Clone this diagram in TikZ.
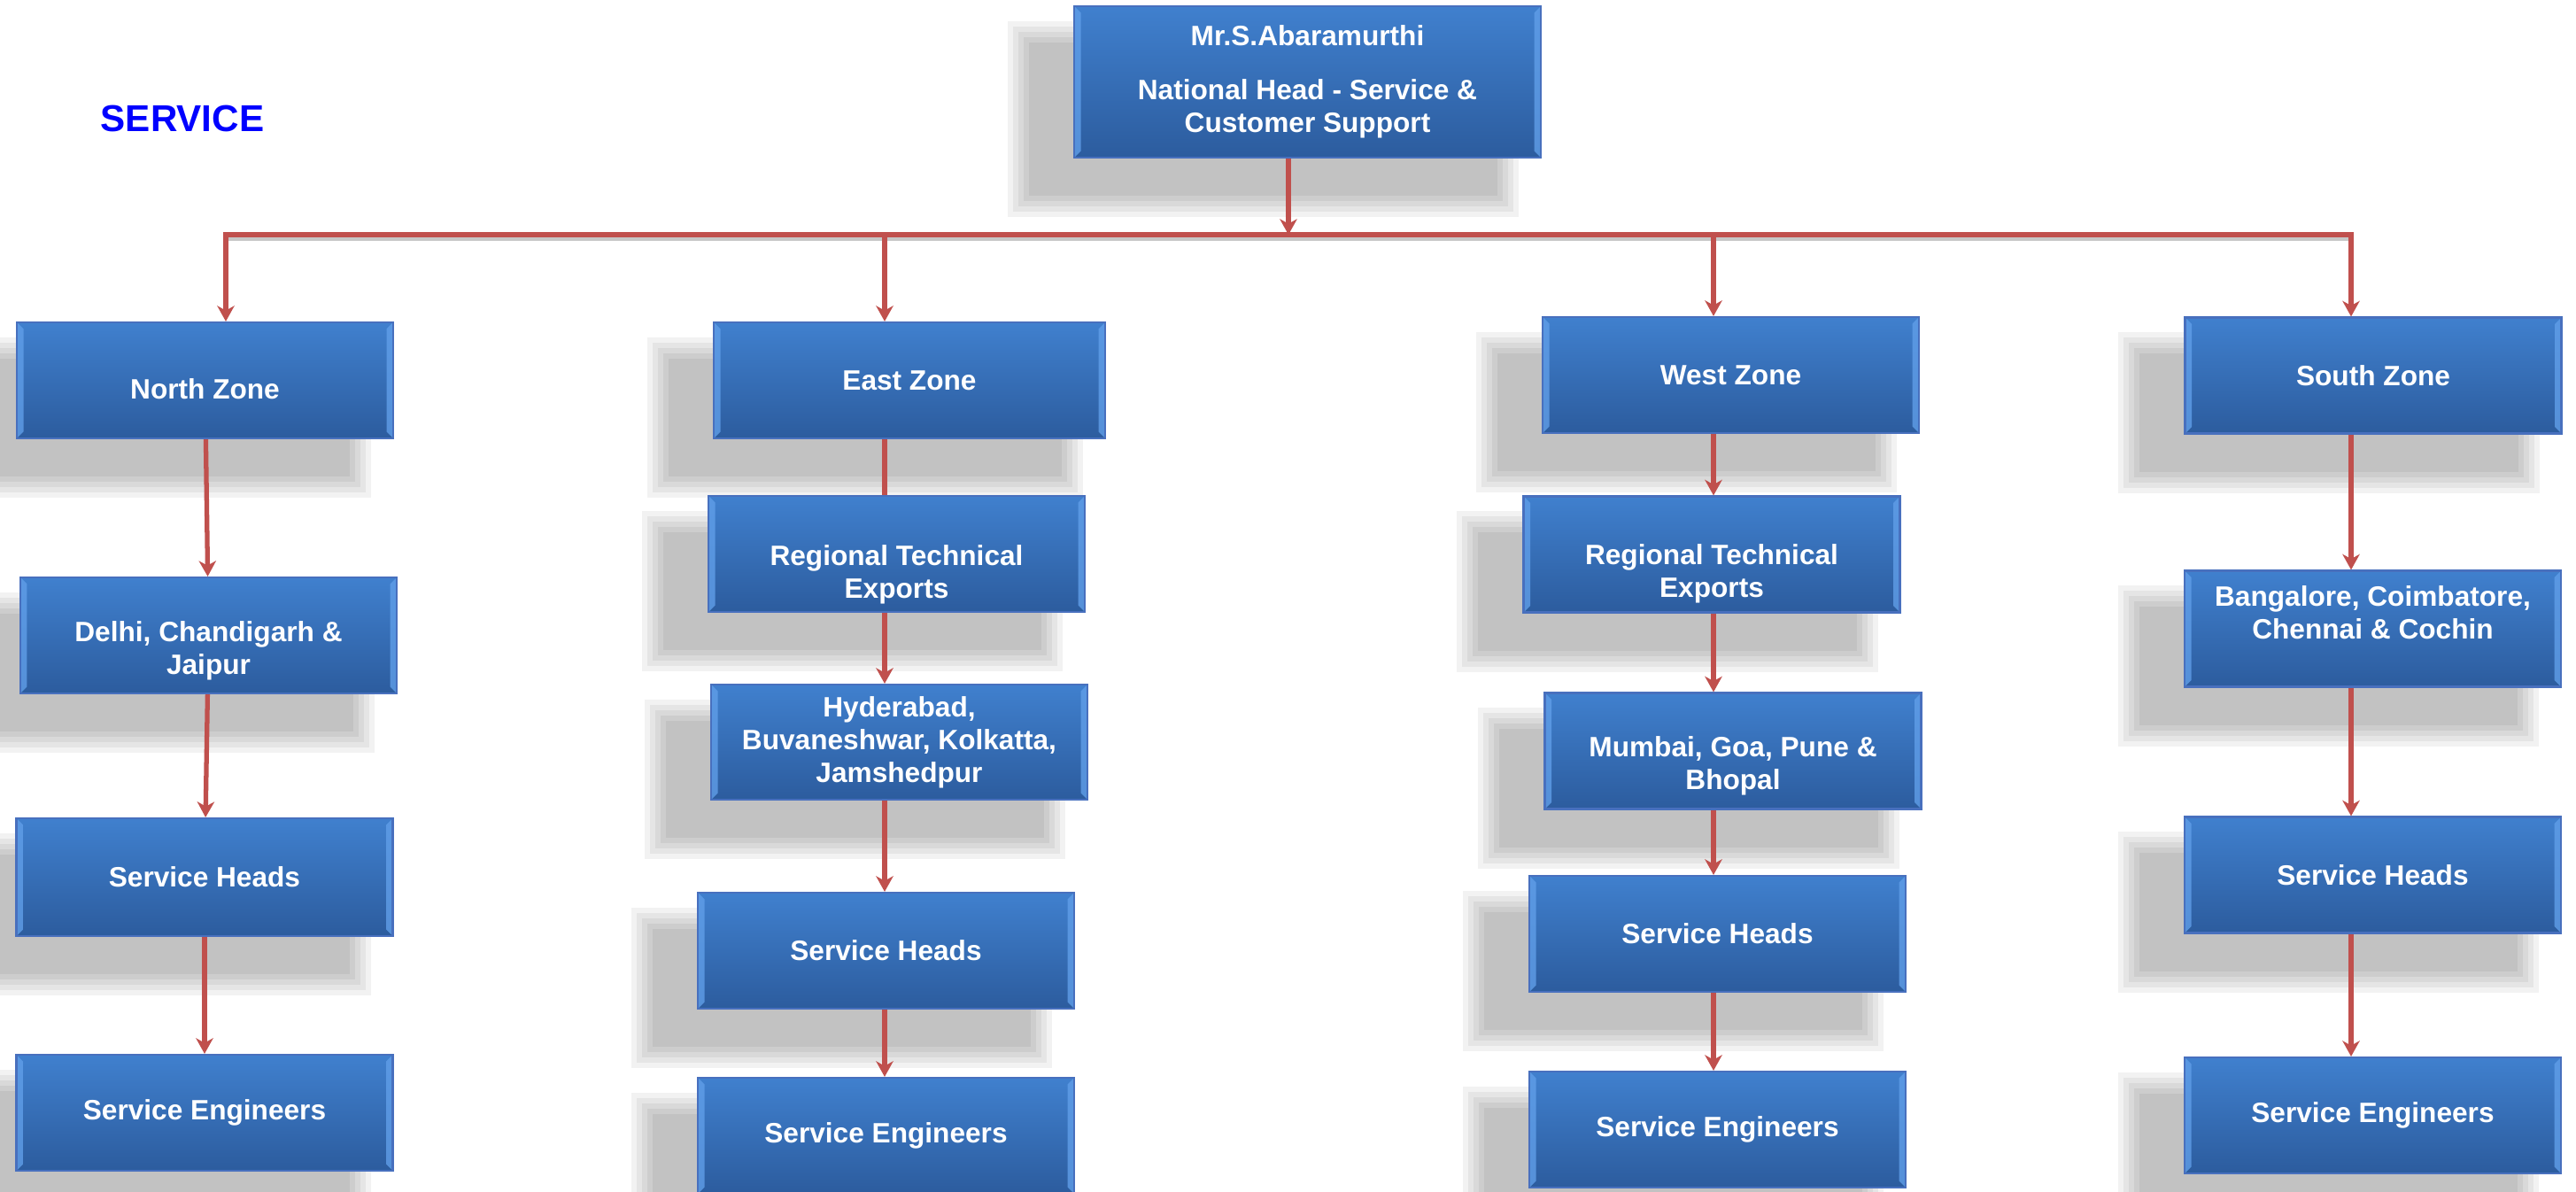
\documentclass[tikz,border=0pt]{standalone}
\usepackage{fontspec}
\setmainfont{Liberation Sans}
\usetikzlibrary{arrows.meta,backgrounds}

\definecolor{boxtop}{RGB}{64,128,206}
\definecolor{boxbot}{RGB}{44,92,158}
\definecolor{boxline}{RGB}{72,112,190}
\definecolor{bevel}{RGB}{96,158,232}
\definecolor{linkred}{RGB}{192,80,77}

% shift a block of lines up or down inside its box
\newcommand{\nudge}[2]{\raisebox{\dimexpr#1-0.25em\relax}[0pt][0pt]{\begin{tabular}{@{}c@{}}#2\end{tabular}}}

\tikzset{
  orgbox/.style={rectangle, minimum width=4.25cm, minimum height=1.31cm, inner sep=2pt,
    top color=boxtop, bottom color=boxbot, draw=boxline, line width=0.6pt,
    text=white, font=\fontsize{9}{10.5}\selectfont\bfseries, align=center,
    path picture={
      \fill[bevel, opacity=0.8] (path picture bounding box.south west) -- (path picture bounding box.north west)
        -- ++(0.075,-0.075) -- ([shift={(0.075,0.075)}]path picture bounding box.south west) -- cycle;
      \fill[bevel, opacity=0.8] (path picture bounding box.south east) -- (path picture bounding box.north east)
        -- ++(-0.075,-0.075) -- ([shift={(-0.075,0.075)}]path picture bounding box.south east) -- cycle;
    }},
  title/.style={text=blue, font=\fontsize{12}{14}\selectfont\bfseries},
  link/.style={draw=linkred, line width=1.5pt, -{Stealth[length=5pt,width=5.5pt,inset=1.5pt]}},
  plainlink/.style={draw=linkred, line width=1.5pt},
}

\begin{document}
\begin{tikzpicture}
\useasboundingbox (0,0) rectangle (29.09,-13.46);

\node[title] (service) at (2.06,-1.335) {SERVICE};

\node[orgbox, minimum width=5.27cm, minimum height=1.71cm] (head) at (14.765,-0.925)
  {Mr.S.Abaramurthi\\[7pt]National Head - Service \&\\Customer Support};

% north
\node[orgbox] (north) at (2.315,-4.295) {\nudge{-1.4mm}{North Zone}};
\node[orgbox] (delhi) at (2.355,-7.175) {\nudge{-1.8mm}{Delhi, Chandigarh \&\\Jaipur}};
\node[orgbox, minimum height=1.33cm] (nsh) at (2.31,-9.905) {Service Heads};
\node[orgbox] (nse) at (2.31,-12.565) {Service Engineers};

% east
\node[orgbox, minimum width=4.42cm] (east) at (10.27,-4.295) {East Zone};
\node[orgbox] (erte) at (10.125,-6.255) {\nudge{-2.4mm}{Regional Technical\\Exports}};
\node[orgbox, minimum height=1.30cm] (hyd) at (10.155,-8.38) {Hyderabad,\\Buvaneshwar, Kolkatta,\\Jamshedpur};
\node[orgbox] (esh) at (10.005,-10.735) {Service Heads};
\node[orgbox] (ese) at (10.005,-12.825) {Service Engineers};

% west
\node[orgbox] (west) at (19.545,-4.235) {West Zone};
\node[orgbox] (wrte) at (19.33,-6.26) {\nudge{-2.3mm}{Regional Technical\\Exports}};
\node[orgbox] (mumbai) at (19.57,-8.48) {\nudge{-1.8mm}{Mumbai, Goa, Pune \&\\Bhopal}};
\node[orgbox] (wsh) at (19.395,-10.545) {Service Heads};
\node[orgbox] (wse) at (19.395,-12.755) {Service Engineers};

% south
\node[orgbox] (south) at (26.80,-4.24) {South Zone};
\node[orgbox] (bang) at (26.795,-7.10) {\nudge{1.4mm}{Bangalore, Coimbatore,\\Chennai \& Cochin}};
\node[orgbox] (ssh) at (26.795,-9.88) {Service Heads};
\node[orgbox] (sse) at (26.795,-12.595) {Service Engineers};

% soft shadows behind the boxes
\begin{pgfonlayer}{background}
\fill[white] (0,0) rectangle (29.09,-13.46);
\foreach \n in {head,north,delhi,nsh,nse,east,erte,hyd,esh,ese,west,wrte,mumbai,wsh,wse,south,bang,ssh,sse}
  \foreach \r in {0.24,0.18,0.12,0.06,0}
    \fill[black, opacity=0.05] ([shift={(-0.50-\r,-0.42-\r)}]\n.south west) rectangle ([shift={(-0.50+\r,-0.42+\r)}]\n.north east);
\end{pgfonlayer}

% bus
\coordinate (bN) at (2.55,-2.65);
\coordinate (bE) at (9.99,-2.65);
\coordinate (bT) at (14.55,-2.65);
\coordinate (bW) at (19.35,-2.65);
\coordinate (bS) at (26.55,-2.65);

\draw[line width=1.2pt, black!22] ([yshift=-0.05cm]bN) -- ([yshift=-0.05cm]bS);
\draw[plainlink, line cap=rect] (bN) -- (bS);
\draw[link] (bT |- head.south) -- (bT);
\draw[link] (bN) -- (bN |- north.north);
\draw[link] (bE) -- (bE |- east.north);
\draw[link] (bW) -- (bW |- west.north);
\draw[link] (bS) -- (bS |- south.north);

\draw[link] (north) -- (delhi);
\draw[link] (delhi) -- (nsh);
\draw[link] (nsh) -- (nse);

\draw[plainlink] (bE |- east.south) -- (bE |- erte.north);
\draw[link] (bE |- erte.south) -- (bE |- hyd.north);
\draw[link] (bE |- hyd.south) -- (bE |- esh.north);
\draw[link] (bE |- esh.south) -- (bE |- ese.north);

\draw[link] (bW |- west.south) -- (bW |- wrte.north);
\draw[link] (bW |- wrte.south) -- (bW |- mumbai.north);
\draw[link] (bW |- mumbai.south) -- (bW |- wsh.north);
\draw[link] (bW |- wsh.south) -- (bW |- wse.north);

\draw[link] (bS |- south.south) -- (bS |- bang.north);
\draw[link] (bS |- bang.south) -- (bS |- ssh.north);
\draw[link] (bS |- ssh.south) -- (bS |- sse.north);
\end{tikzpicture}
\end{document}
